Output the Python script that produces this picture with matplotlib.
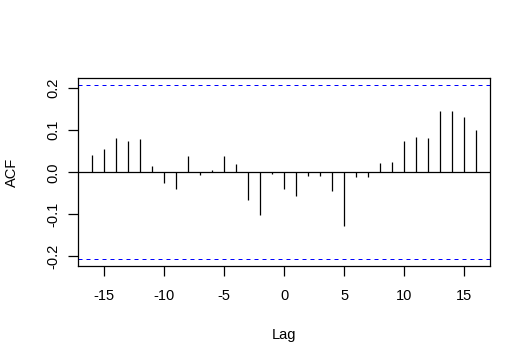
import matplotlib
matplotlib.use("Agg")
import matplotlib.pyplot as plt

lags = list(range(-16, 17))
acf = [0.041, 0.056, 0.082, 0.075, 0.079, 0.015, -0.025, -0.039, 0.039, -0.006,
       0.006, 0.039, 0.020, -0.066, -0.101, -0.003, -0.039, -0.056, -0.009, -0.009,
       -0.044, -0.129, -0.011, -0.010, 0.023, 0.025, 0.075, 0.084, 0.082, 0.146,
       0.146, 0.132, 0.101]
ci = 0.207
xticks = [-15, -10, -5, 0, 5, 10, 15]
yticks = [-0.2, -0.1, 0.0, 0.1, 0.2]

plt.rcParams['font.family'] = ['Liberation Sans', 'DejaVu Sans']
fig = plt.figure(figsize=(5.31, 3.64), dpi=100)
ax = fig.add_axes([78.3/531, 1-266.3/364, 412/531, 188/364])

ax.vlines(lags, 0, acf, color='black', lw=0.9)
ax.axhline(0, color='black', lw=0.9)
ax.axhline(ci, color='#0000FF', lw=0.72, ls=(0, (4, 4)))
ax.axhline(-ci, color='#0000FF', lw=0.72, ls=(0, (4, 4)))

ax.set_xlim(-17.17, 17.17)
ax.set_ylim(-0.2238, 0.2238)
ax.set_xticks(xticks)
ax.set_xticklabels([str(t) for t in xticks])
ax.set_yticks(yticks)
ax.set_yticklabels(['-0.2', '-0.1', '0.0', '0.1', '0.2'], rotation=90, va='center')
for s in ax.spines.values():
    s.set_linewidth(0.9)
ax.tick_params(axis='x', length=7, width=0.9, pad=9.5, labelsize=10.5)
ax.tick_params(axis='y', length=7, width=0.9, pad=6, labelsize=10.5)

fig.text(284.3/531, 1-335/364, 'Lag', ha='center', va='center', fontsize=10.5)
fig.text(12/531, 1-172.3/364, 'ACF', ha='center', va='center', rotation=90, fontsize=10.5)

fig.savefig('out.png', dpi=100)
